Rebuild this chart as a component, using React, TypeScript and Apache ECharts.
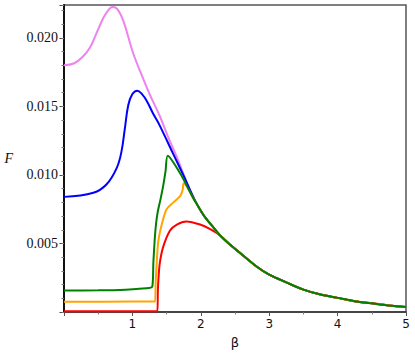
import React, { useEffect, useRef } from "react";
import * as echarts from "echarts";

// Shared decaying tail (beta, F)
const tailBeta = [1.79, 1.86, 1.94, 2.05, 2.18, 2.28, 2.43, 2.6, 2.82, 3.0, 3.25, 3.5, 3.75, 4.0, 4.25, 4.5, 4.75, 5.0];
const tailF = [0.0095, 0.0087, 0.0079, 0.007, 0.0062, 0.0056, 0.0049, 0.0042, 0.0033, 0.00272, 0.00216, 0.00163, 0.00127, 0.00103, 0.00079, 0.00063, 0.00048, 0.00036];

const violetBeta = [0, 0.15, 0.27, 0.38, 0.48, 0.58, 0.66, 0.71, 0.78, 0.87, 1.01, 1.16, 1.26, 1.4, 1.52, 1.65];
const violetF = [0.018, 0.01815, 0.0186, 0.0193, 0.0204, 0.0215, 0.0221, 0.02225, 0.0221, 0.0212, 0.0189, 0.017, 0.0158, 0.0143, 0.0128, 0.0113];

const blueBeta = [0, 0.43, 0.62, 0.77, 0.84, 0.89, 0.94, 1.0, 1.07, 1.14, 1.21, 1.3, 1.4, 1.6];
const blueF = [0.0084, 0.0087, 0.0093, 0.0105, 0.0117, 0.0134, 0.0151, 0.0159, 0.01615, 0.0159, 0.0154, 0.0145, 0.0136, 0.0115];

const greenBeta = [0, 0.5, 0.9, 1.1, 1.29, 1.306, 1.325, 1.345, 1.37, 1.41, 1.45, 1.485, 1.516, 1.7, 1.89];
const greenF = [0.00156, 0.00158, 0.00163, 0.0017, 0.00185, 0.00355, 0.0052, 0.0064, 0.0073, 0.0082, 0.0092, 0.0103, 0.0114, 0.0101, 0.0083];

const orangeBeta = [0, 1.0, 1.33, 1.34, 1.355, 1.38, 1.43, 1.5, 1.6, 1.7, 1.735, 1.75, 1.89];
const orangeF = [0.00074, 0.00076, 0.00077, 0.0021, 0.00355, 0.0052, 0.0064, 0.0075, 0.008, 0.00847, 0.0089, 0.0094, 0.0083];

const redBeta = [0, 1.365, 1.372, 1.38, 1.4, 1.45, 1.55, 1.65, 1.79, 1.99, 2.13, 2.28];
const redF = [0.00005, 0.00005, 0.0015, 0.00235, 0.00355, 0.00475, 0.00595, 0.00638, 0.0066, 0.00638, 0.00607, 0.0056];

const yTicks = [0.005, 0.01, 0.015, 0.02];
const xTicks = [1, 2, 3, 4, 5];

function build(b: number[], f: number[]): number[][] {
  const pts = b.map((x, i) => [x, f[i]]);
  const last = b[b.length - 1];
  tailBeta.forEach((x, i) => {
    if (x > last + 1e-9) pts.push([x, tailF[i]]);
  });
  return pts;
}

export default function App() {
  const ref = useRef<HTMLDivElement>(null);
  useEffect(() => {
    if (!ref.current) return;
    const chart = echarts.init(ref.current, null, { renderer: "svg" });
    const yMax = 0.0224;
    const line = (name: string, color: string, data: number[][], z: number, smooth: number) => ({
      name,
      type: "line",
      data,
      showSymbol: false,
      symbol: "none",
      smooth,
      lineStyle: { color, width: 2 },
      z,
      xAxisIndex: 0,
      yAxisIndex: 0,
    });
    chart.setOption({
      animation: false,
      backgroundColor: "#ffffff",
      grid: {
        left: 64,
        right: 9,
        top: 5,
        bottom: 38,
        show: true,
        borderColor: "#555555",
        borderWidth: 1.5,
      },
      xAxis: [
        {
          type: "value",
          min: 0,
          max: 5,
          interval: 1,
          axisLine: { show: true, onZero: false, lineStyle: { color: "#333333", width: 1.5 } },
          axisTick: { show: true, length: 4, lineStyle: { color: "#555555" } },
          minorTick: { show: true, splitNumber: 2, length: 2.5, lineStyle: { color: "#777777" } },
          splitLine: { show: false },
          axisLabel: {
            color: "#111111",
            fontFamily: "DejaVu Sans",
            fontSize: 12,
            margin: 6,
            formatter: (v: number) => (xTicks.includes(v) ? String(v) : ""),
          },
          name: "β",
          nameLocation: "middle",
          nameGap: 24,
          nameTextStyle: { color: "#111111", fontFamily: "DejaVu Sans", fontSize: 13 },
        },
      ],
      yAxis: [
        {
          type: "value",
          min: 0,
          max: yMax,
          interval: 0.005,
          axisLine: { show: true, onZero: false, lineStyle: { color: "#111111", width: 2 } },
          axisTick: { show: true, length: 4.5, lineStyle: { color: "#444444" } },
          splitLine: { show: false },
          axisLabel: {
            color: "#111111",
            fontFamily: "Liberation Serif",
            fontSize: 14,
            margin: 6,
            formatter: (v: number) => {
              const hit = yTicks.find((t) => Math.abs(t - v) < 1e-9);
              return hit ? hit.toFixed(3) : "";
            },
          },
          name: "F",
          nameLocation: "middle",
          nameGap: 51,
          nameRotate: 0,
          nameTextStyle: {
            color: "#111111",
            fontFamily: "Liberation Serif",
            fontStyle: "italic",
            fontSize: 14,
            padding: [0, 0, 28, 0],
          },
        },
        {
          type: "value",
          min: 0,
          max: yMax,
          interval: 0.001,
          position: "left",
          axisLine: { show: false },
          axisTick: { show: true, length: 2.5, lineStyle: { color: "#777777" } },
          axisLabel: { show: false },
          splitLine: { show: false },
        },
      ],
      series: [
        line("violet", "#ee82ee", build(violetBeta, violetF), 1, 0.4),
        line("blue", "#0000ff", build(blueBeta, blueF), 2, 0.4),
        line("red", "#ff0000", build(redBeta, redF), 3, 0.3),
        line("orange", "#ffa500", build(orangeBeta, orangeF), 4, 0.3),
        line("green", "#008000", build(greenBeta, greenF), 5, 0.25),
      ],
    });
    return () => chart.dispose();
  }, []);
  return <div ref={ref} style={{ width: 415, height: 354, position: "absolute", left: 0, top: 0 }} />;
}
